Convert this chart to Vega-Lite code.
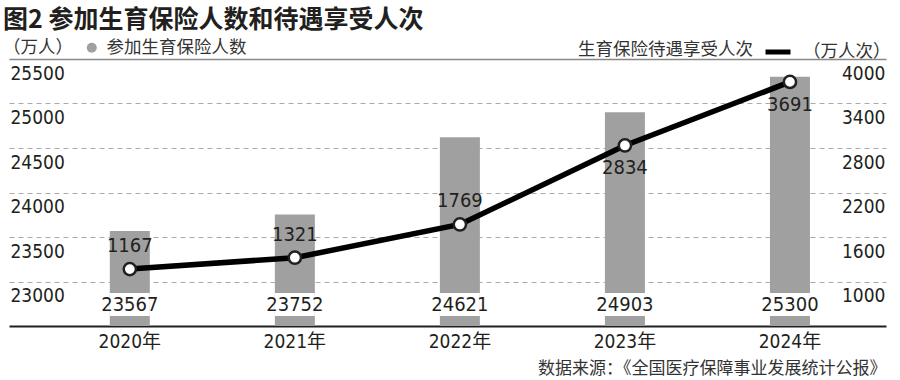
{
  "$schema": "https://vega.github.io/schema/vega-lite/v6.json",
  "autosize": {"type": "none"},
  "width": 877,
  "height": 267,
  "padding": {"left": 9, "top": 59, "right": 14, "bottom": 54},
  "background": "white",
  "config": {
    "view": {"stroke": null},
    "font": "Noto Sans CJK SC"
  },
  "title": {
    "text": "图2 参加生育保险人数和待遇享受人次",
    "anchor": "start",
    "frame": "group",
    "font": "Noto Sans CJK SC",
    "fontSize": 25,
    "fontWeight": "bold",
    "color": "#231f20",
    "dx": -6,
    "offset": 4
  },
  "data": {
    "values": [
      {"year": "2020年", "participants": 23567, "beneficiaries": 1167},
      {"year": "2021年", "participants": 23752, "beneficiaries": 1321},
      {"year": "2022年", "participants": 24621, "beneficiaries": 1769},
      {"year": "2023年", "participants": 24903, "beneficiaries": 2834},
      {"year": "2024年", "participants": 25300, "beneficiaries": 3691}
    ]
  },
  "encoding": {
    "x": {
      "field": "year",
      "type": "nominal",
      "sort": null,
      "scale": {"type": "band", "paddingInner": 0.758, "paddingOuter": 0.536, "align": 0.57},
      "axis": {
        "title": "数据来源：《全国医疗保障事业发展统计公报》",
        "titleAnchor": "end",
        "titleAlign": "right",
        "titleFont": "Noto Sans CJK SC",
        "titleFontSize": 17,
        "titleFontWeight": "normal",
        "titleColor": "#333333",
        "titlePadding": 9,
        "labelAngle": 0,
        "labelFont": "DejaVu Sans Condensed, Noto Sans CJK SC",
        "labelFontSize": 19,
        "labelColor": "#231f20",
        "labelPadding": 6,
        "ticks": false,
        "domainColor": "#231f20",
        "domainWidth": 2,
        "grid": false
      }
    }
  },
  "layer": [
    {
      "layer": [
        {
          "mark": {"type": "bar", "width": 40},
          "encoding": {
            "y": {
              "field": "participants",
              "type": "quantitative",
              "scale": {"domain": [22500, 25500], "zero": false, "nice": false},
              "axis": {
                "orient": "left",
                "title": null,
                "values": [23000, 23500, 24000, 24500, 25000, 25500],
                "format": "d",
                "domain": false,
                "ticks": false,
                "labelAlign": "left",
                "labelBaseline": "middle",
                "labelPadding": -1,
                "labelOffset": 14,
                "labelFont": "DejaVu Sans Condensed",
                "labelFontSize": 19,
                "labelColor": "#231f20",
                "grid": true,
                "gridDash": {"condition": {"test": "datum.value == 25500", "value": []}, "value": [5, 4]},
                "gridColor": {"condition": {"test": "datum.value == 25500", "value": "#888888"}, "value": "#aaaaaa"},
                "gridWidth": {"condition": {"test": "datum.value == 25500", "value": 1.5}, "value": 1}
              }
            },
            "y2": {"datum": 22500},
            "fill": {
              "datum": "参加生育保险人数",
              "type": "nominal",
              "scale": {"range": ["#a0a0a0"]},
              "legend": {
                "orient": "none",
                "legendX": -6,
                "legendY": -20,
                "direction": "horizontal",
                "title": "（万人）",
                "titleOrient": "left",
                "titleFont": "Noto Sans CJK SC",
                "titleFontSize": 17.5,
                "titleFontWeight": "normal",
                "titleColor": "#333333",
                "titlePadding": 10,
                "symbolType": "circle",
                "symbolSize": 100,
                "symbolStrokeWidth": 0,
                "labelFont": "Noto Sans CJK SC",
                "labelFontSize": 17.5,
                "labelColor": "#333333",
                "labelOffset": 6
              }
            }
          }
        },
        {
          "mark": {"type": "bar", "width": 40, "color": "white"},
          "encoding": {
            "y": {"datum": 22612, "type": "quantitative"},
            "y2": {"datum": 22870}
          }
        },
        {
          "mark": {"type": "text", "font": "DejaVu Sans Condensed", "fontSize": 20, "color": "#231f20", "baseline": "middle"},
          "encoding": {
            "y": {"datum": 22736, "type": "quantitative"},
            "text": {"field": "participants", "type": "quantitative", "format": "d"}
          }
        }
      ]
    },
    {
      "layer": [
        {
          "mark": {"type": "line", "strokeWidth": 5.5},
          "encoding": {
            "y": {
              "field": "beneficiaries",
              "type": "quantitative",
              "scale": {"domain": [400, 4000], "zero": false, "nice": false},
              "axis": {
                "orient": "right",
                "title": null,
                "values": [1000, 1600, 2200, 2800, 3400, 4000],
                "format": "d",
                "domain": false,
                "ticks": false,
                "grid": false,
                "labelAlign": "right",
                "labelBaseline": "middle",
                "labelPadding": -1,
                "labelOffset": 14,
                "labelFont": "DejaVu Sans Condensed",
                "labelFontSize": 19,
                "labelColor": "#231f20"
              }
            },
            "stroke": {
              "datum": "（万人次）",
              "type": "nominal",
              "scale": {"range": ["#000000"]},
              "legend": {
                "orient": "none",
                "legendX": 569,
                "legendY": -22,
                "direction": "horizontal",
                "title": "生育保险待遇享受人次",
                "titleOrient": "left",
                "titleFont": "Noto Sans CJK SC",
                "titleFontSize": 17.5,
                "titleFontWeight": "normal",
                "titleColor": "#333333",
                "titlePadding": 10,
                "symbolType": "stroke",
                "symbolSize": 625,
                "symbolStrokeWidth": 5,
                "labelFont": "Noto Sans CJK SC",
                "labelFontSize": 17.5,
                "labelColor": "#333333",
                "labelOffset": 10
              }
            }
          }
        },
        {
          "mark": {"type": "point", "filled": true, "fill": "white", "stroke": "#231f20", "strokeWidth": 2.5, "size": 150, "opacity": 1},
          "encoding": {"y": {"field": "beneficiaries", "type": "quantitative"}}
        },
        {
          "transform": [{"filter": "datum.beneficiaries < 2000"}],
          "mark": {"type": "text", "font": "DejaVu Sans Condensed", "fontSize": 20, "color": "#231f20", "baseline": "middle", "dy": -23},
          "encoding": {
            "y": {"field": "beneficiaries", "type": "quantitative"},
            "text": {"field": "beneficiaries", "type": "quantitative", "format": "d"}
          }
        },
        {
          "transform": [{"filter": "datum.beneficiaries >= 2000"}],
          "mark": {"type": "text", "font": "DejaVu Sans Condensed", "fontSize": 20, "color": "#231f20", "baseline": "middle", "dy": 23},
          "encoding": {
            "y": {"field": "beneficiaries", "type": "quantitative"},
            "text": {"field": "beneficiaries", "type": "quantitative", "format": "d"}
          }
        }
      ]
    }
  ],
  "resolve": {"scale": {"y": "independent"}}
}
